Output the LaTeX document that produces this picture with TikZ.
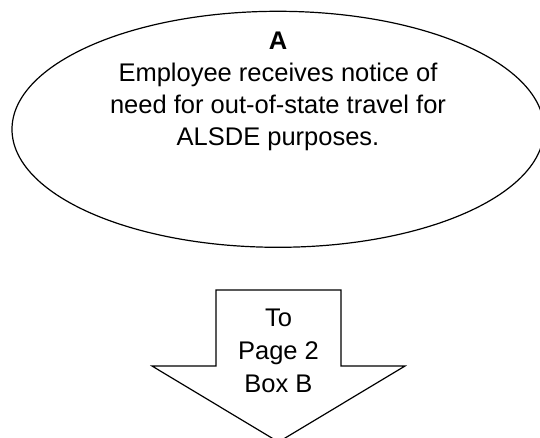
\documentclass[tikz,border=0pt]{standalone}
\usepackage{fontspec}
\setmainfont{Liberation Sans}
\usetikzlibrary{shapes.geometric, positioning}

\begin{document}
\begin{tikzpicture}[
  x=1pt, y=1pt,
  bubble/.style={draw, ellipse, line width=1.2pt, minimum width=532pt,
                 minimum height=236pt, inner sep=0pt},
  caption/.style={align=center, inner sep=0pt, anchor=north},
  blockarrow/.style={draw, line width=1.2pt, line join=miter}
]
  \clip (0,0) rectangle (540,438);

  % Start bubble
  \node[bubble] (stepA) at (278,308.7) {};
  \node[caption, font=\fontsize{25.5}{32}\selectfont] (textA) at (278,406.3)
    {\textbf{A}\\Employee receives notice of\\need for out-of-state travel for\\ALSDE purposes.};

  % Off-page connector
  \draw[blockarrow] (216,148) -- (341,148) -- (341,72) -- (405,72) -- (278.5,-4)
    -- (152,72) -- (216,72) -- cycle;
  \node[caption, font=\fontsize{25.5}{33}\selectfont] (toB) at (278.5,129.7)
    {To\\Page 2\\Box B};
\end{tikzpicture}
\end{document}
